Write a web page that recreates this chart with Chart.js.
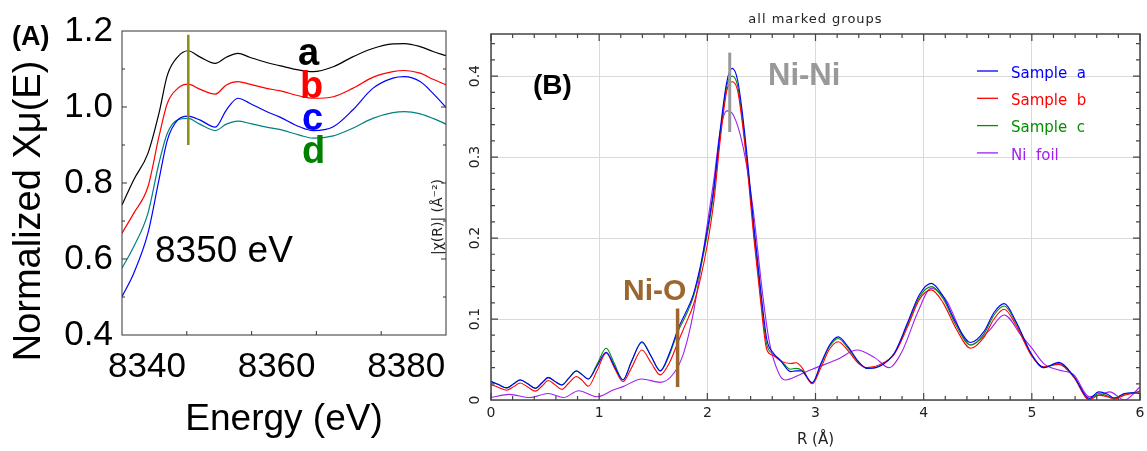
<!DOCTYPE html>
<html>
<head>
<meta charset="utf-8">
<title>XANES and FT-EXAFS</title>
<script src="https://cdn.jsdelivr.net/npm/chart.js@4.4.1/dist/chart.umd.min.js"></script>
<style>
  html, body { margin: 0; padding: 0; background: #fff; }
  #wrap { position: relative; width: 1147px; height: 451px; overflow: hidden; }
  #chartA { position: absolute; left: 0; top: 0; }
  #chartB { position: absolute; left: 420px; top: 0; }
</style>
</head>
<body>
<div id="wrap">
  <canvas id="chartA" width="460" height="451"></canvas>
  <canvas id="chartB" width="727" height="451"></canvas>
</div>
<script>
// (A) normalized XANES, energy in eV
const energy = [8340, 8341.8, 8344, 8345.7, 8347, 8348.6, 8350.2, 8352, 8354.4, 8356.1, 8357.9, 8359.7,
                8362.3, 8364.3, 8367.4, 8369.5, 8372.6, 8375.6, 8378.7, 8381.8, 8383.6, 8386, 8388, 8390];
const xanesA = [0.742, 0.808, 0.878, 0.983, 1.084, 1.132, 1.148, 1.132, 1.115, 1.131, 1.141, 1.131,
                1.117, 1.109, 1.097, 1.093, 1.106, 1.132, 1.154, 1.166, 1.167, 1.159, 1.146, 1.135];
const xanesB = [0.668, 0.720, 0.790, 0.922, 1.010, 1.049, 1.060, 1.047, 1.034, 1.058, 1.067, 1.060,
                1.049, 1.043, 1.029, 1.023, 1.027, 1.049, 1.078, 1.093, 1.096, 1.089, 1.073, 1.058];
const xanesC = [0.501, 0.562, 0.668, 0.808, 0.913, 0.966, 0.976, 0.966, 0.947, 0.992, 1.023, 1.010,
                0.988, 0.974, 0.948, 0.938, 0.948, 0.992, 1.049, 1.076, 1.080, 1.067, 1.036, 0.999];
const xanesD = [0.576, 0.632, 0.720, 0.852, 0.931, 0.966, 0.970, 0.955, 0.938, 0.955, 0.963, 0.957,
                0.947, 0.941, 0.926, 0.918, 0.924, 0.944, 0.970, 0.985, 0.988, 0.982, 0.970, 0.955];
const edgeMark = { e: 8350, low: 0.9, high: 1.19 };

// (B) |chi(R)| for the samples, R in angstrom
const rGrid = [0, 0.07, 0.145, 0.21, 0.27, 0.34, 0.41, 0.47, 0.53, 0.59, 0.655, 0.72, 0.79, 0.845, 0.90,
               0.98, 1.065, 1.14, 1.22, 1.30, 1.395, 1.48, 1.565, 1.65, 1.73, 1.80, 1.87, 1.94, 2.0,
               2.06, 2.12, 2.18, 2.23, 2.28, 2.33, 2.38, 2.43, 2.49, 2.55, 2.61, 2.68, 2.77, 2.82, 2.87,
               2.97, 3.05, 3.13, 3.21, 3.30, 3.40, 3.48, 3.60, 3.73, 3.85, 3.96, 4.07, 4.18, 4.30, 4.435,
               4.56, 4.65, 4.745, 4.85, 5.0, 5.11, 5.25, 5.39, 5.53, 5.62, 5.70, 5.76, 5.855, 5.93, 6.0];
const ftA = [0.023, 0.019, 0.015, 0.020, 0.0247, 0.020, 0.0144, 0.021, 0.0276, 0.023, 0.0185, 0.027, 0.0358, 0.031, 0.026,
             0.042, 0.059, 0.042, 0.0247, 0.048, 0.072, 0.054, 0.036, 0.058, 0.088, 0.108, 0.130, 0.168, 0.210,
             0.262, 0.335, 0.393, 0.4095, 0.395, 0.348, 0.285, 0.215, 0.140, 0.075, 0.058, 0.048, 0.035, 0.036, 0.036,
             0.0214, 0.045, 0.068, 0.078, 0.066, 0.047, 0.039, 0.042, 0.058, 0.095, 0.130, 0.144, 0.128, 0.095, 0.071,
             0.085, 0.108, 0.119, 0.098, 0.056, 0.040, 0.0465, 0.029, 0.002, 0.010, 0.007, 0.0025, 0.008, 0.009, 0.008];
const ftB = [0.019, 0.0155, 0.012, 0.0165, 0.021, 0.016, 0.011, 0.017, 0.024, 0.019, 0.013, 0.021, 0.029, 0.024, 0.017,
             0.036, 0.058, 0.040, 0.0226, 0.040, 0.0617, 0.046, 0.031, 0.046, 0.072, 0.094, 0.117, 0.152, 0.192,
             0.245, 0.322, 0.382, 0.393, 0.382, 0.335, 0.272, 0.200, 0.125, 0.062, 0.055, 0.048, 0.045, 0.046, 0.041,
             0.020, 0.040, 0.063, 0.072, 0.061, 0.045, 0.040, 0.044, 0.057, 0.090, 0.124, 0.136, 0.120, 0.088, 0.064,
             0.078, 0.100, 0.112, 0.093, 0.054, 0.041, 0.044, 0.028, 0.000, 0.006, 0.004, 0.001, 0.006, 0.008, 0.011];
const ftC = [0.023, 0.019, 0.015, 0.020, 0.025, 0.020, 0.0145, 0.021, 0.028, 0.023, 0.0185, 0.027, 0.036, 0.031, 0.026,
             0.044, 0.064, 0.045, 0.025, 0.048, 0.071, 0.054, 0.036, 0.056, 0.085, 0.104, 0.127, 0.164, 0.205,
             0.257, 0.330, 0.388, 0.400, 0.388, 0.340, 0.278, 0.208, 0.132, 0.068, 0.057, 0.049, 0.038, 0.039, 0.037,
             0.021, 0.044, 0.066, 0.076, 0.064, 0.046, 0.039, 0.043, 0.058, 0.093, 0.127, 0.140, 0.125, 0.092, 0.068,
             0.082, 0.105, 0.116, 0.096, 0.055, 0.040, 0.045, 0.028, 0.001, 0.008, 0.005, 0.002, 0.007, 0.009, 0.010];
// Ni foil reference, on its own R points
const rFoil = [0, 0.17, 0.36, 0.53, 0.67, 0.81, 0.98, 1.13, 1.22, 1.395, 1.565, 1.69, 1.78, 1.87, 1.96, 2.06,
               2.12, 2.18, 2.24, 2.33, 2.42, 2.51, 2.57, 2.66, 2.72, 2.85, 2.97, 3.2, 3.385, 3.55, 3.68, 3.8,
               3.95, 4.07, 4.2, 4.435, 4.6, 4.745, 4.9, 5.0, 5.11, 5.25, 5.39, 5.53, 5.62, 5.72, 5.855, 6.0];
const ftFoil = [0.003, 0.007, 0.003, 0.008, 0.003, 0.0115, 0.004, 0.0123, 0.0165, 0.026, 0.0218, 0.033, 0.0576, 0.107, 0.181, 0.2716,
                0.333, 0.357, 0.352, 0.313, 0.239, 0.132, 0.074, 0.033, 0.0247, 0.031, 0.038, 0.050, 0.0617, 0.052, 0.040, 0.060,
                0.110, 0.138, 0.125, 0.068, 0.085, 0.105, 0.080, 0.064, 0.045, 0.037, 0.031, 0.004, 0.006, 0.010, 0.0, 0.016];
const ftLabels = ['Sample  a', 'Sample  b', 'Sample  c', 'Ni  foil'];
const niNiMark = { r: 2.207, low: 0.331, high: 0.429 };
const niOMark = { r: 1.725, low: 0.016, high: 0.113 };

const pts = (xs, ys) => xs.map((x, i) => ({ x: x, y: ys[i] }));
const SANS = 'Liberation Sans, Arial, sans-serif';
const PLOT = 'DejaVu Sans, sans-serif';

function line(ctx, x1, y1, x2, y2) {
  ctx.beginPath();
  ctx.moveTo(x1, y1);
  ctx.lineTo(x2, y2);
  ctx.stroke();
}

// frame, inward ticks and labels of panel A
const decorA = {
  id: 'decorA',
  afterDatasetsDraw(chart) {
    const { ctx, chartArea: ca, scales: { x, y } } = chart;
    ctx.save();
    ctx.strokeStyle = '#333';
    ctx.lineWidth = 1;
    ctx.strokeRect(ca.left, ca.top, ca.right - ca.left, ca.bottom - ca.top);
    ctx.beginPath();
    for (let k = 5; k <= 11; k++) {
      const py = y.getPixelForValue(k / 10);
      const len = k % 2 === 0 ? 5 : 3;
      ctx.moveTo(ca.left, py); ctx.lineTo(ca.left + len, py);
      ctx.moveTo(ca.right, py); ctx.lineTo(ca.right - len, py);
    }
    for (let e = 8350; e < 8390; e += 10) {
      const px = x.getPixelForValue(e);
      ctx.moveTo(px, ca.bottom); ctx.lineTo(px, ca.bottom - 4);
    }
    ctx.stroke();

    ctx.strokeStyle = '#8c8c14';
    ctx.lineWidth = 2.5;
    const ex = x.getPixelForValue(edgeMark.e) + 1.5;
    line(ctx, ex, y.getPixelForValue(edgeMark.low), ex, y.getPixelForValue(edgeMark.high));

    // y title, sits lower than the axis centre in the original
    ctx.save();
    ctx.fillStyle = '#000';
    ctx.font = '38px ' + SANS;
    ctx.textAlign = 'center';
    ctx.textBaseline = 'middle';
    ctx.translate(30, 211);
    ctx.rotate(-Math.PI / 2);
    ctx.fillText('Normalized Xμ(E)', 0, 0);
    ctx.restore();

    ctx.textBaseline = 'alphabetic';
    ctx.textAlign = 'left';
    ctx.fillStyle = '#000';
    ctx.font = 'bold 27px ' + SANS;
    ctx.fillText('(A)', 12, 45);
    ctx.font = '37px ' + SANS;
    ctx.fillText('8350 eV', 155, 262);
    ctx.font = 'bold 38px ' + SANS;
    const tags = [['a', '#000', 298, 65], ['b', '#ff0000', 300, 98], ['c', '#0000ff', 302, 130], ['d', '#008000', 302, 163]];
    tags.forEach(t => { ctx.fillStyle = t[1]; ctx.fillText(t[0], t[2], t[3]); });
    ctx.restore();
  }
};

// frame, inward ticks, rotated y labels, legend and notes of panel B
const decorB = {
  id: 'decorB',
  afterDatasetsDraw(chart) {
    const { ctx, chartArea: ca, scales: { x, y } } = chart;
    ctx.save();
    ctx.strokeStyle = '#444';
    ctx.lineWidth = 1.5;
    ctx.strokeRect(ca.left, ca.top, ca.right - ca.left, ca.bottom - ca.top);
    ctx.lineWidth = 1.2;
    ctx.beginPath();
    for (let k = 0; k <= 30; k++) {
      const px = x.getPixelForValue(k / 5);
      const len = k % 5 === 0 ? 7 : 4;
      ctx.moveTo(px, ca.bottom); ctx.lineTo(px, ca.bottom - len);
      ctx.moveTo(px, ca.top); ctx.lineTo(px, ca.top + len);
    }
    for (let k = 1; k <= 22; k++) {
      const py = y.getPixelForValue(k / 50);
      const len = k % 5 === 0 ? 7 : 4;
      ctx.moveTo(ca.left, py); ctx.lineTo(ca.left + len, py);
      ctx.moveTo(ca.right, py); ctx.lineTo(ca.right - len, py);
    }
    ctx.stroke();

    // y tick labels, turned like the original
    ctx.fillStyle = '#222';
    ctx.font = '14px ' + PLOT;
    ctx.textAlign = 'center';
    ctx.textBaseline = 'middle';
    y.ticks.forEach(t => {
      const py = y.getPixelForValue(t.value);
      ctx.save();
      ctx.translate(55, py);
      ctx.rotate(-Math.PI / 2);
      ctx.fillText(t.value === 0 ? '0' : t.value.toFixed(1), 0, 0);
      ctx.restore();
    });

    ctx.font = '13px ' + PLOT;
    ctx.letterSpacing = '1px';
    ctx.fillText('all marked groups', (ca.left + ca.right) / 2, 20);
    ctx.letterSpacing = '0px';

    // legend
    ctx.font = '15px ' + PLOT;
    ctx.textAlign = 'left';
    chart.data.datasets.forEach((ds, i) => {
      const ly = 71 + i * 27.3;
      ctx.strokeStyle = ds.borderColor;
      ctx.lineWidth = 1.3;
      line(ctx, 557, ly, 578, ly);
      ctx.fillStyle = ds.borderColor;
      ctx.fillText(ds.label, 591, ly + 3);
    });

    // bond markers
    ctx.lineWidth = 3;
    ctx.strokeStyle = '#999';
    let px = x.getPixelForValue(niNiMark.r);
    line(ctx, px, y.getPixelForValue(niNiMark.low), px, y.getPixelForValue(niNiMark.high));
    ctx.lineWidth = 3.5;
    ctx.strokeStyle = '#9c6630';
    px = x.getPixelForValue(niOMark.r);
    line(ctx, px, y.getPixelForValue(niOMark.low), px, y.getPixelForValue(niOMark.high));

    ctx.textBaseline = 'alphabetic';
    ctx.fillStyle = '#000';
    ctx.font = 'bold 28px ' + SANS;
    ctx.fillText('(B)', 113, 94);
    ctx.fillStyle = '#999';
    ctx.font = 'bold 31px ' + SANS;
    ctx.fillText('Ni-Ni', 348, 85);
    ctx.fillStyle = '#9c6630';
    ctx.font = 'bold 30px ' + SANS;
    ctx.fillText('Ni-O', 203, 300);
    ctx.restore();
  }
};

const noPad = s => { s.paddingLeft = 0; s.paddingRight = 0; s.paddingTop = 0; s.paddingBottom = 0; };

const xanesChart = new Chart(document.getElementById('chartA'), {
  type: 'line',
  data: {
    datasets: [
      { label: 'a', data: pts(energy, xanesA), borderColor: '#000000' },
      { label: 'b', data: pts(energy, xanesB), borderColor: '#ff0000' },
      { label: 'c', data: pts(energy, xanesC), borderColor: '#0000ff' },
      { label: 'd', data: pts(energy, xanesD), borderColor: '#008080' }
    ]
  },
  options: {
    responsive: false,
    animation: false,
    devicePixelRatio: 1,
    layout: { padding: { left: 0, top: 31, right: 14, bottom: 0 } },
    elements: {
      point: { radius: 0 },
      line: { borderWidth: 1.2, cubicInterpolationMode: 'monotone', fill: false }
    },
    plugins: { legend: { display: false }, tooltip: { enabled: false } },
    scales: {
      x: {
        type: 'linear',
        min: 8340,
        max: 8390,
        grid: { display: false, drawTicks: false },
        border: { display: false },
        afterFit: s => { noPad(s); s.height = 116; },
        ticks: {
          stepSize: 10,
          autoSkip: false,
          minRotation: 0,
          maxRotation: 0,
          labelOffset: 25,
          padding: 11,
          color: '#000',
          font: { family: SANS, size: 35 },
          callback: v => (v % 20 === 0 && v < 8390) ? String(v) : ''
        },
        title: {
          display: true,
          text: 'Energy (eV)',
          color: '#000',
          font: { family: SANS, size: 37 },
          padding: { top: 0, bottom: 9 }
        }
      },
      y: {
        min: 0.4,
        max: 1.2,
        grid: { display: false, drawTicks: false },
        border: { display: false },
        afterFit: s => { noPad(s); s.width = 122; },
        ticks: {
          stepSize: 0.2,
          padding: 9,
          color: '#000',
          font: { family: SANS, size: 35 },
          callback: v => v.toFixed(1)
        },
        title: { display: false }
      }
    }
  },
  plugins: [decorA]
});

const ftChart = new Chart(document.getElementById('chartB'), {
  type: 'line',
  data: {
    datasets: [
      { label: ftLabels[0], data: pts(rGrid, ftA), borderColor: '#0000ff' },
      { label: ftLabels[1], data: pts(rGrid, ftB), borderColor: '#ff0000' },
      { label: ftLabels[2], data: pts(rGrid, ftC), borderColor: '#009000' },
      { label: ftLabels[3], data: pts(rFoil, ftFoil), borderColor: '#a020f0' }
    ]
  },
  options: {
    responsive: false,
    animation: false,
    devicePixelRatio: 1,
    layout: { padding: { left: 0, top: 34, right: 7, bottom: 0 } },
    elements: {
      point: { radius: 0 },
      line: { borderWidth: 1.1, cubicInterpolationMode: 'monotone', fill: false }
    },
    plugins: { legend: { display: false }, tooltip: { enabled: false } },
    scales: {
      x: {
        type: 'linear',
        min: 0,
        max: 6,
        grid: { color: '#dadada', lineWidth: 1, drawTicks: false },
        border: { display: false },
        afterFit: s => { noPad(s); s.height = 51; },
        ticks: {
          stepSize: 1,
          autoSkip: false,
          minRotation: 0,
          maxRotation: 0,
          padding: 5,
          color: '#222',
          font: { family: PLOT, size: 14 }
        },
        title: {
          display: true,
          text: 'R (Å)',
          color: '#222',
          font: { family: PLOT, size: 15 },
          padding: { top: 0, bottom: 2 }
        }
      },
      y: {
        min: 0,
        max: 0.452,
        grid: { color: '#dadada', lineWidth: 1, drawTicks: false },
        border: { display: false },
        afterFit: s => { noPad(s); s.width = 71; },
        ticks: { stepSize: 0.1, includeBounds: false, display: false },
        title: {
          display: true,
          text: '|χ(R)| (Å⁻²)',
          color: '#222',
          font: { family: PLOT, size: 14 },
          padding: { top: 10, bottom: 0 }
        }
      }
    }
  },
  plugins: [decorB]
});
</script>
</body>
</html>
